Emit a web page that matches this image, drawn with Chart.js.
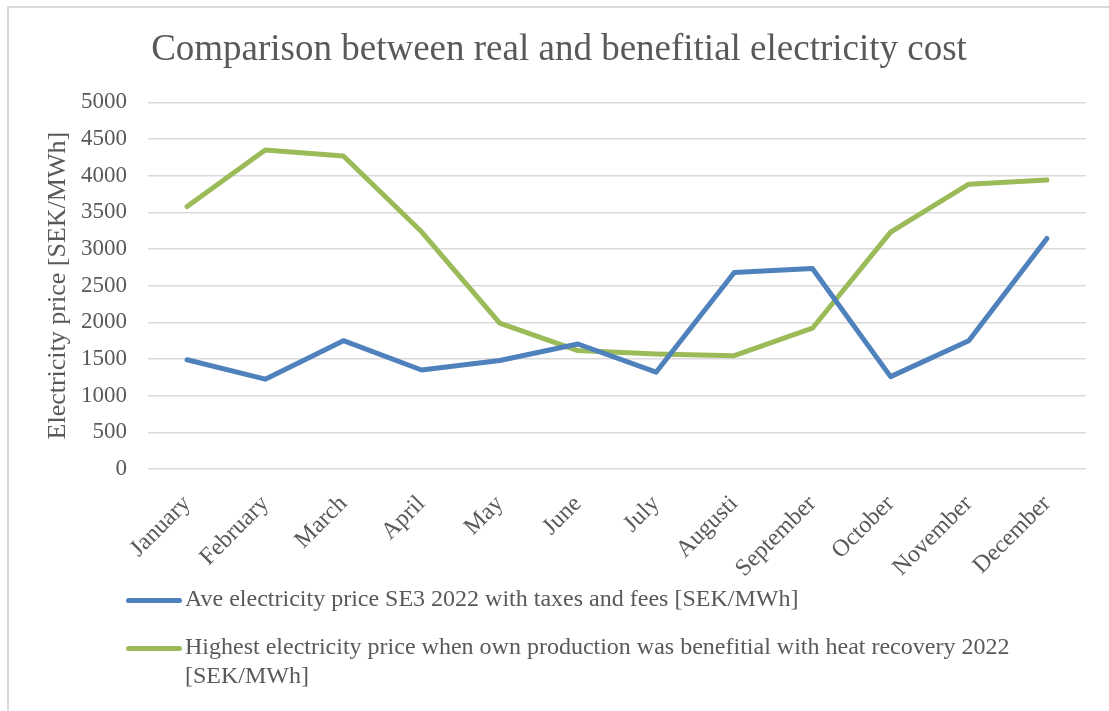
<!DOCTYPE html>
<html>
<head>
<meta charset="utf-8">
<script src="https://cdn.jsdelivr.net/npm/chart.js@4.4.1/dist/chart.umd.min.js"></script>
<style>
  html, body { margin: 0; padding: 0; background: #fff; }
  body { width: 1109px; height: 711px; position: relative; overflow: hidden; font-family: "Liberation Serif", "Times New Roman", serif; }
  .frame { position: absolute; left: 7px; top: 6px; right: -10px; bottom: -10px; border-left: 2px solid #d9d9d9; border-top: 2px solid #d9d9d9; }
  .chart-box { position: absolute; left: 0; top: 0; width: 1109px; height: 600px; }
  #legend { position: absolute; left: 126px; top: 584px; width: 920px; color: #595959; font-size: 24px; }
  #legend .item { display: flex; align-items: flex-start; margin-bottom: 19px; }
  #legend .swatch { flex: none; width: 56px; height: 5px; border-radius: 3px; margin-top: 14px; margin-right: 3px; }
  #legend .text { line-height: 29px; width: 840px; }
</style>
</head>
<body>
<div class="frame"></div>
<div class="chart-box"><canvas id="priceChart" width="1109" height="600"></canvas></div>
<div id="legend"></div>
<script>
const months = ["January", "February", "March", "April", "May", "June", "July", "Augusti", "September", "October", "November", "December"];
const avgPrice = [1490, 1225, 1750, 1350, 1480, 1705, 1320, 2680, 2735, 1260, 1750, 3145];
const benefitPrice = [3580, 4350, 4270, 3235, 1990, 1615, 1570, 1545, 1920, 3230, 3885, 3940];
const avgLabel = "Ave electricity price SE3 2022 with taxes and fees [SEK/MWh]";
const benefitLabel = "Highest electricity price when own production was benefitial with heat recovery 2022 [SEK/MWh]";

const textColor = "#595959";
const gridColor = "#d9d9d9";
const serif = "'Liberation Serif', 'Times New Roman', serif";

// legend is laid out in html so the long label can wrap like the original
const htmlLegend = {
  id: "htmlLegend",
  afterUpdate(chart) {
    const box = document.getElementById("legend");
    box.innerHTML = "";
    chart.data.datasets.forEach((ds) => {
      const item = document.createElement("div");
      item.className = "item";
      const swatch = document.createElement("span");
      swatch.className = "swatch";
      swatch.style.background = ds.borderColor;
      const text = document.createElement("span");
      text.className = "text";
      text.textContent = ds.label;
      item.appendChild(swatch);
      item.appendChild(text);
      box.appendChild(item);
    });
  },
};

new Chart(document.getElementById("priceChart").getContext("2d"), {
  type: "line",
  data: {
    labels: months,
    datasets: [
      {
        label: avgLabel,
        data: avgPrice,
        borderColor: "#4f81bd",
        borderWidth: 5,
        pointRadius: 0,
        tension: 0,
        borderCapStyle: "round",
        borderJoinStyle: "round",
      },
      {
        label: benefitLabel,
        data: benefitPrice,
        borderColor: "#9bbb59",
        borderWidth: 5,
        pointRadius: 0,
        tension: 0,
        borderCapStyle: "round",
        borderJoinStyle: "round",
      },
    ],
  },
  plugins: [htmlLegend],
  options: {
    responsive: false,
    animation: false,
    layout: { padding: { left: 32, right: 23, top: 0, bottom: 0 } },
    plugins: {
      legend: { display: false },
      tooltip: { enabled: false },
      title: {
        display: true,
        text: "Comparison between real and benefitial electricity cost",
        color: textColor,
        font: { family: serif, size: 37, weight: "normal" },
        padding: { top: 28, bottom: 30 },
      },
    },
    scales: {
      x: {
        offset: true,
        grid: { display: false },
        border: { display: false },
        ticks: {
          color: textColor,
          font: { family: serif, size: 24 },
          maxRotation: 45,
          minRotation: 45,
          padding: 13,
        },
        afterFit: (scale) => { scale.height = 131; },
      },
      y: {
        min: 0,
        max: 5000,
        grid: { color: gridColor, lineWidth: 1.5, drawTicks: false },
        border: { display: false },
        ticks: {
          stepSize: 500,
          color: textColor,
          font: { family: serif, size: 23 },
          padding: 21,
          callback: (value) => String(value),
        },
        title: {
          display: true,
          text: "Electricity price [SEK/MWh]",
          color: textColor,
          font: { family: serif, size: 26 },
          padding: { top: 11, bottom: 0 },
        },
        afterFit: (scale) => { scale.width = 116; },
      },
    },
  },
});
</script>
</body>
</html>
